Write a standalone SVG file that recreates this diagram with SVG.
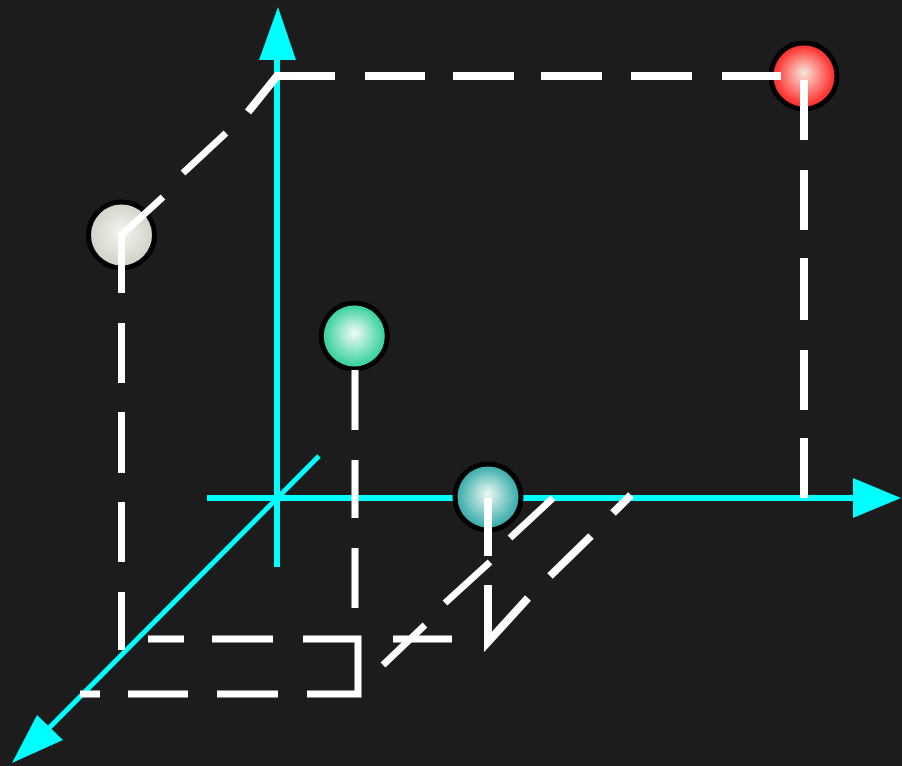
<svg xmlns="http://www.w3.org/2000/svg" width="902" height="766" viewBox="0 0 902 766">
<defs>
<radialGradient id="gGrey" cx="50%" cy="50%" r="50%" fx="50%" fy="45%"><stop offset="0" stop-color="#f6f6f2"/><stop offset="0.85" stop-color="#d6d6ce"/><stop offset="1" stop-color="#d0d0c8"/></radialGradient>
<radialGradient id="gGreen" cx="50%" cy="50%" r="50%" fx="50%" fy="45%"><stop offset="0" stop-color="#f2fbf6"/><stop offset="0.85" stop-color="#44d4a6"/><stop offset="1" stop-color="#38cf9e"/></radialGradient>
<radialGradient id="gTeal" cx="50%" cy="50%" r="50%" fx="50%" fy="45%"><stop offset="0" stop-color="#eef9f2"/><stop offset="0.85" stop-color="#46b2b0"/><stop offset="1" stop-color="#3caaa8"/></radialGradient>
<radialGradient id="gRed" cx="50%" cy="50%" r="50%" fx="50%" fy="45%"><stop offset="0" stop-color="#f6e6dc"/><stop offset="0.85" stop-color="#ff3a36"/><stop offset="1" stop-color="#ff2a28"/></radialGradient>
</defs>
<style>
.axis{stroke:#00ffff;stroke-width:6;fill:none}
.axd{stroke:#00ffff;stroke-width:5;fill:none}
.head{fill:#00ffff;stroke:none}
.ball{stroke:#000;stroke-width:5}
.dash{stroke:#ffffff;stroke-width:7;fill:none;stroke-linejoin:miter}
.dash8{stroke:#ffffff;stroke-width:8;fill:none;stroke-linejoin:miter}
</style>
<rect width="902" height="766" fill="#1c1c1c"/>
<g id="axes">
<line class="axis" x1="277" y1="567" x2="277" y2="56"/>
<polygon class="head" points="278,7 259,60 296,60"/>
<line class="axis" x1="207" y1="498" x2="856" y2="498"/>
<polygon class="head" points="901,498 853,478 853,518"/>
<line class="axd" x1="319" y1="456" x2="48" y2="729"/>
<polygon class="head" points="12,763 37,715 63,740"/>
</g>
<g id="node-grey"><circle class="ball" cx="121.5" cy="235" r="33" fill="url(#gGrey)"/></g>
<g id="node-green"><circle class="ball" cx="354.3" cy="336" r="33" fill="url(#gGreen)"/></g>
<g id="node-teal"><circle class="ball" cx="488" cy="497" r="33" fill="url(#gTeal)"/></g>
<g id="node-red"><circle class="ball" cx="804" cy="76" r="33" fill="url(#gRed)"/></g>
<g id="connectors">
<path class="dash8" d="M248,112 L277,76 L335,76 M365,76 H425 M453,76 H514 M541,76 H602 M631,76 H692 M722,76 H781"/>
<path class="dash8" d="M804,80 V140 M804,170 V230 M804,258 V320 M804,350 V410 M804,438 V498"/>
<path class="dash" d="M226,133 L183,173 M163,197 L121.5,235 L121.5,293 M121.5,323 V383 M121.5,412 V473 M121.5,502 V562 M121.5,592 V650"/>
<path class="dash" d="M355,370 V430 M355,460 V518 M355,548 V608"/>
<path class="dash" d="M148,639 H184 M212,639 H273 M303,639 H358 V694 H307 M393,639 H452 M278,694 H217 M188,694 H128 M100,694 H80"/>
<path class="dash8" d="M488,498 V556 M488,585 V642 L528,598 M550,576 L591,536 M613,513 L631,495"/>
<path class="dash" d="M383,665 L425,625 M445,603 L490,562 M510,538 L553,498"/>
</g>
</svg>
